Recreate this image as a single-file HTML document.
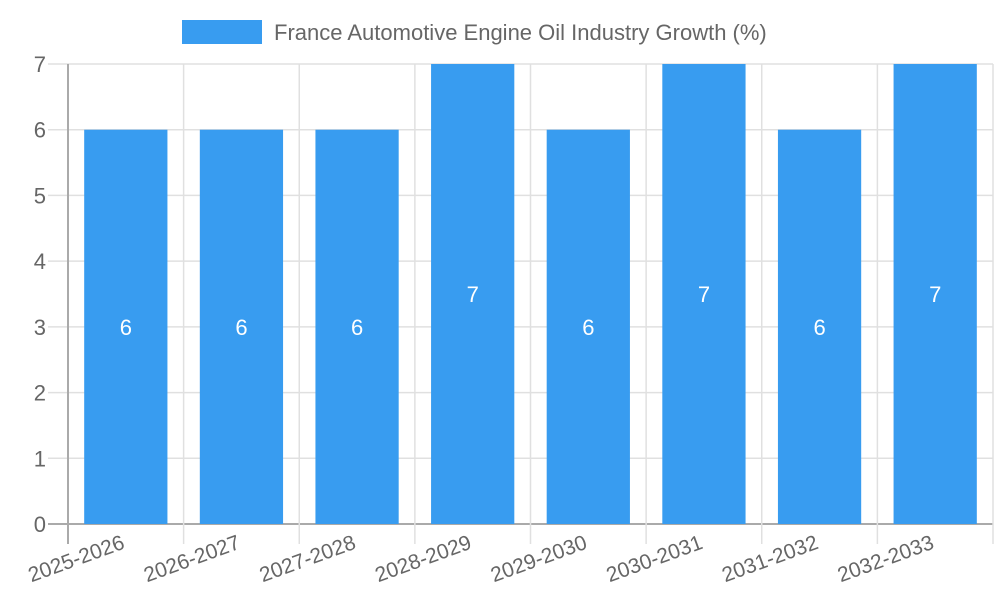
<!DOCTYPE html>
<html><head><meta charset="utf-8"><style>
body{margin:0;background:#fff;}
svg{display:block;font-family:"Liberation Sans",sans-serif;}
</style></head><body>
<svg id="chart" width="1000" height="600">
<g>
<rect x="182" y="20" width="80" height="24" fill="#389cf0"></rect>
<text x="274" y="40" font-size="22" fill="#666">France Automotive Engine Oil Industry Growth (%)</text>
</g>
<g id="grid"></g>
<g id="bars"></g>
<g id="axes"></g>
</svg>
<script>
const categories=["2025-2026","2026-2027","2027-2028","2028-2029","2029-2030","2030-2031","2031-2032","2032-2033"];
const values=[6,6,6,7,6,7,6,7];
const yTicks=[0,1,2,3,4,5,6,7];
const NS="http://www.w3.org/2000/svg";
const L=68,R=993,T=64,B=524,yMax=7;
const bw=(R-L)/categories.length;
const y=v=>B-(v/yMax)*(B-T);
const x=i=>L+bw*i;
function mk(tag,attrs,parent,txt){const e=document.createElementNS(NS,tag);for(const k in attrs)e.setAttribute(k,attrs[k]);if(txt!==undefined)e.textContent=txt;parent.appendChild(e);return e;}
const grid=document.getElementById('grid'),bars=document.getElementById('bars'),axes=document.getElementById('axes');
yTicks.forEach(t=>{
 const ln=mk('line',{x1:48,x2:R,y1:y(t),y2:y(t),stroke:t===0?'#aaa':'#e0e0e0','stroke-width':t===0?2:1.5},grid);
 
 
 const tx=mk('text',{x:46,y:y(t)+8,'text-anchor':'end','font-size':22,fill:'#666'},axes,String(t));
 
 
});
for(let i=0;i<=categories.length;i++){
 const ln=mk('line',{x1:x(i),x2:x(i),y1:T,y2:B+20,stroke:i===0?'#aaa':'#e0e0e0','stroke-width':i===0?2:1.5},grid);
 
 
}
categories.forEach((c,i)=>{
 const cx=x(i)+bw/2,w=bw*0.72;
 const r=mk('rect',{x:cx-w/2,y:y(values[i]),width:w,height:B-y(values[i]),fill:'#389cf0'},bars);
 
 
 const v=mk('text',{x:cx,y:(y(values[i])+B)/2+8,'text-anchor':'middle','font-size':22,fill:'#fff'},bars,String(values[i]));
 
 
 const lb=mk('text',{x:cx,y:548,'text-anchor':'end','font-size':21,fill:'#666',transform:`rotate(-20 ${cx} 548)`},axes,c);
 
 
});
</script>
</body></html>
